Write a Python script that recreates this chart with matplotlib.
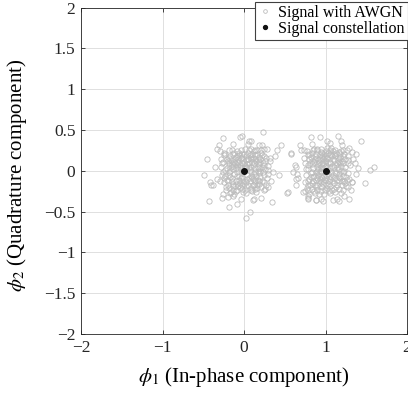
# AWGN constellation scatter (binary signalling, two symbols on phi_1)

import matplotlib
matplotlib.use("Agg")
import matplotlib.pyplot as plt

plt.rcParams['font.family'] = ['Liberation Serif', 'DejaVu Serif']
plt.rcParams['mathtext.fontset'] = 'stix'

# constellation points
const_x = [0.0, 1.0]
const_y = [0.0, 0.0]

# received samples around symbol 0
awgn_s0 = [
    (0.02, 0.05), (-0.08, 0.11), (0.12, -0.04), (-0.15, -0.09), (0.05, -0.17), (0.18, 0.08), (-0.03, 0.21),
    (-0.21, 0.03), (0.09, 0.14), (-0.11, -0.19), (0.22, -0.12), (-0.06, -0.07), (0.14, 0.19), (-0.18, 0.16),
    (0.01, -0.24), (0.26, 0.02), (-0.24, -0.14), (0.07, 0.01), (-0.13, 0.06), (0.16, -0.21), (-0.01, 0.13),
    (0.11, 0.07), (-0.19, -0.02), (0.04, -0.10), (-0.09, 0.24), (0.20, 0.15), (-0.27, 0.09), (0.13, -0.14),
    (-0.05, -0.15), (0.24, -0.05), (-0.14, 0.20), (0.03, 0.18), (-0.22, -0.20), (0.17, 0.00), (-0.07, 0.02),
    (0.10, -0.25), (-0.16, -0.26), (0.06, 0.25), (-0.25, 0.22), (0.19, -0.16), (-0.02, -0.03), (0.15, 0.12),
    (-0.12, -0.04), (0.08, -0.06), (-0.20, 0.12), (0.00, 0.09), (0.21, 0.22), (-0.10, -0.12), (0.13, 0.03),
    (-0.04, 0.16), (0.27, -0.18), (-0.17, 0.00), (0.02, -0.19), (-0.08, 0.07), (0.11, -0.10), (-0.23, -0.07),
    (0.18, 0.17), (-0.01, -0.12), (0.06, 0.10), (-0.14, -0.16), (0.23, 0.10), (-0.06, 0.19), (0.09, -0.21),
    (-0.19, 0.26), (0.14, -0.02), (-0.11, 0.14), (0.03, 0.03), (-0.26, -0.02), (0.16, 0.25), (-0.03, -0.22),
    (0.29, 0.06), (-0.15, 0.08), (0.05, 0.14), (-0.09, -0.23), (0.20, -0.08), (-0.21, -0.11), (0.10, 0.20),
    (-0.05, 0.04), (0.12, -0.17), (-0.17, 0.18), (0.01, 0.27), (-0.28, 0.15), (0.25, -0.24), (-0.12, -0.28),
    (0.08, 0.05), (-0.02, -0.08), (0.17, -0.11), (-0.07, 0.11), (0.22, 0.04), (-0.18, -0.05),
    (0.04, 0.08), (-0.10, 0.03), (0.15, -0.07), (-0.05, -0.20), (0.19, 0.11), (-0.16, 0.13), (0.07, -0.13),
    (-0.23, 0.01), (0.12, 0.24), (-0.02, 0.10), (0.24, -0.14), (-0.13, -0.23), (0.00, 0.20), (0.17, 0.05),
    (-0.20, -0.17), (0.09, -0.02), (-0.08, 0.18), (0.26, 0.12), (-0.27, -0.05), (0.03, -0.27), (0.14, 0.15),
    (-0.11, 0.09), (0.21, -0.20), (-0.06, -0.11), (0.10, 0.11), (-0.24, 0.19), (0.05, 0.22), (-0.15, -0.12),
    (0.28, -0.09), (-0.01, 0.00), (0.18, -0.03), (-0.19, 0.07), (0.08, 0.17), (-0.09, -0.16), (0.22, 0.19),
    (-0.04, 0.25), (0.13, -0.22), (-0.22, -0.24), (0.02, 0.13), (-0.12, 0.22), (0.25, 0.07), (-0.17, -0.08),
    (0.06, -0.09), (-0.07, 0.14), (0.16, 0.21), (-0.28, 0.04), (0.11, -0.18), (-0.03, -0.17), (0.20, 0.00),
    (-0.14, 0.02), (0.01, 0.06), (-0.21, 0.15), (0.15, -0.26), (-0.10, -0.25), (0.27, 0.16), (-0.05, 0.07),
    (0.09, 0.27), (-0.18, -0.21), (0.04, -0.05), (-0.26, 0.11), (0.19, -0.13), (-0.08, -0.02), (0.12, 0.09),
    (-0.15, 0.25), (0.23, -0.01), (-0.01, -0.26), (0.07, 0.19), (-0.20, -0.13), (0.30, -0.04), (-0.12, 0.11),
    (0.03, -0.14), (-0.25, -0.09), (0.17, 0.13), (-0.06, 0.22), (0.10, -0.08), (-0.16, 0.04), (0.21, 0.25),
    (-0.02, 0.17), (0.14, -0.11), (-0.09, -0.06), (0.26, -0.22), (-0.23, 0.20), (0.06, 0.04), (-0.13, -0.19),
    (0.18, 0.03), (-0.04, -0.09), (0.11, 0.16), (-0.19, 0.10), (0.00, -0.16), (0.24, 0.18), (-0.29, -0.12),
    (0.08, -0.24), (-0.10, 0.17), (0.16, -0.17), (-0.03, 0.03), (0.13, 0.26), (-0.17, -0.27), (0.29, 0.01),
    (-0.07, -0.19), (0.05, 0.15),
    (0.32, 0.12), (-0.33, -0.10), (0.05, 0.33), (-0.04, -0.34), (0.30, -0.20), (-0.30, 0.24), (0.18, 0.31),
    (-0.20, -0.32), (0.35, -0.02), (-0.36, 0.05), (0.12, -0.35), (-0.14, 0.33), (0.28, 0.27), (-0.26, -0.28),
    (0.38, 0.18), (-0.31, 0.32), (0.21, -0.33), (0.33, -0.12), (-0.38, -0.18), (0.09, 0.36),
    (0.23, 0.48), (-0.26, 0.40), (-0.33, 0.27), (-0.46, 0.14), (-0.49, -0.05), (-0.42, -0.14), (-0.40, -0.18),
    (-0.43, -0.37), (-0.19, -0.45), (-0.08, -0.41), (0.07, -0.51), (0.03, -0.58), (0.11, -0.36), (0.34, -0.38),
    (0.43, -0.05), (0.53, -0.27), (0.46, 0.31), (0.40, 0.25), (0.25, 0.27), (0.22, 0.31), (-0.05, 0.41),
    (-0.03, 0.43), (0.06, 0.36), (0.32, 0.16), (-0.13, -0.31), (-0.27, -0.33), (0.58, 0.22), (0.54, -0.26),
]

# received samples around symbol 1
awgn_s1 = [
    (1.03, -0.04), (0.91, 0.08), (1.14, 0.10), (0.85, -0.13), (1.07, 0.19), (0.96, -0.20), (1.21, -0.06),
    (0.80, 0.14), (1.10, -0.15), (0.94, 0.23), (1.18, 0.17), (0.88, -0.02), (1.01, 0.12), (0.77, -0.21),
    (1.24, 0.04), (0.99, -0.11), (1.12, 0.26), (0.83, 0.22), (1.05, -0.27), (0.90, -0.17), (1.16, -0.22),
    (0.97, 0.03), (1.27, 0.13), (0.79, 0.02), (1.08, 0.06), (0.93, 0.15), (1.20, -0.13), (0.86, -0.25),
    (1.02, 0.28), (0.75, 0.10), (1.13, -0.03), (0.95, -0.07), (1.25, -0.19), (0.82, -0.08), (1.06, -0.19),
    (0.98, 0.20), (1.19, 0.24), (0.87, 0.18), (1.00, -0.01), (0.92, -0.28), (1.15, 0.02), (0.81, -0.17),
    (1.09, 0.15), (0.89, 0.05), (1.22, 0.09), (0.96, 0.09), (1.04, -0.13), (0.78, 0.19), (1.11, -0.09),
    (0.94, -0.14), (1.28, -0.03), (0.84, 0.08), (1.03, 0.22), (0.99, -0.24), (1.17, 0.11), (0.90, 0.27),
    (1.07, -0.08), (0.76, -0.05), (1.23, 0.21), (0.97, 0.14), (1.14, -0.17), (0.86, 0.11), (1.01, 0.06),
    (0.93, -0.10), (1.19, 0.00), (0.80, -0.28), (1.10, 0.21), (0.95, 0.00), (1.26, -0.11), (0.88, -0.20),
    (1.05, 0.03), (0.98, 0.17), (1.12, -0.26), (0.83, -0.01), (1.16, 0.16), (0.91, -0.05), (1.02, -0.18),
    (0.74, 0.16), (1.21, 0.18), (1.08, -0.12), (0.85, 0.25), (1.13, 0.07), (0.97, -0.16), (1.30, 0.07),
    (0.92, 0.11), (1.06, 0.25), (0.79, -0.12), (1.18, -0.09), (1.00, 0.16), (0.89, -0.09),
    (1.05, 0.09), (0.92, -0.03), (1.16, -0.08), (0.87, 0.14), (1.02, -0.21), (1.20, 0.12), (0.83, -0.15),
    (1.09, 0.24), (0.96, 0.18), (1.25, -0.08), (0.78, 0.07), (1.13, -0.20), (0.99, 0.05), (0.90, -0.23),
    (1.18, 0.20), (0.85, 0.03), (1.07, -0.02), (0.94, 0.27), (1.23, 0.00), (0.80, -0.10), (1.11, 0.13),
    (0.97, -0.12), (1.27, 0.18), (0.88, 0.21), (1.04, -0.16), (0.75, -0.14), (1.15, 0.05), (0.93, 0.07),
    (1.21, -0.24), (0.86, -0.06), (1.00, 0.24), (1.09, -0.05), (0.82, 0.17), (1.17, -0.13), (0.95, -0.25),
    (1.28, 0.09), (0.91, 0.13), (1.03, 0.01), (0.77, 0.24), (1.12, 0.18), (0.98, -0.06), (1.24, -0.15),
    (0.84, -0.22), (1.06, 0.11), (0.89, 0.00), (1.19, 0.06), (0.96, 0.22), (1.14, -0.11), (0.81, 0.10),
    (1.01, -0.09), (1.26, 0.25), (0.87, -0.18), (1.08, 0.18), (0.94, -0.02), (1.22, -0.02), (0.79, -0.24),
    (1.13, 0.22), (0.99, 0.12), (1.04, -0.25), (0.90, 0.16), (1.17, -0.04), (0.76, 0.02), (1.10, 0.04),
    (0.95, -0.19), (1.29, -0.10), (0.86, 0.27), (1.02, 0.16), (1.20, -0.18), (0.92, -0.13), (1.07, 0.28),
    (0.83, 0.12), (1.15, 0.13), (0.98, -0.28), (1.24, 0.15), (0.88, -0.11), (1.05, -0.10), (0.80, 0.21),
    (1.11, -0.22), (0.97, 0.08), (1.19, -0.27), (0.93, 0.19), (1.03, 0.10), (0.85, -0.08), (1.22, 0.26),
    (1.08, -0.23), (0.91, 0.02), (1.16, 0.23), (0.78, -0.18), (1.00, -0.05), (1.27, -0.20), (0.89, 0.25),
    (1.12, -0.01), (0.96, -0.09), (1.18, 0.09), (0.82, -0.03), (1.06, 0.20), (0.94, 0.04), (1.23, -0.12),
    (0.87, -0.27), (1.01, 0.19),
    (1.34, 0.14), (0.66, -0.09), (1.06, 0.34), (0.95, -0.35), (1.31, -0.23), (0.70, 0.26), (1.20, 0.32),
    (0.78, -0.31), (1.37, -0.04), (0.63, 0.07), (1.14, -0.34), (0.84, 0.33), (1.29, 0.28), (0.73, -0.26),
    (1.38, 0.20), (0.69, 0.31), (1.23, -0.31), (1.33, -0.14), (0.64, -0.17), (1.02, 0.37),
    (1.44, 0.37), (1.60, 0.05), (1.55, 0.01), (1.49, -0.15), (1.29, -0.34), (1.17, -0.37), (1.09, -0.36),
    (0.97, -0.37), (0.88, -0.36), (0.78, -0.33), (0.75, -0.25), (0.64, -0.10), (0.65, -0.04), (0.60, -0.02),
    (0.64, 0.04), (0.58, 0.20), (0.74, 0.25), (0.82, 0.41), (0.93, 0.41), (1.15, 0.42), (1.19, 0.36),
    (1.32, 0.23), (1.36, 0.10), (1.40, 0.03), (1.32, -0.14), (0.78, -0.34), (0.88, -0.36),
]

x0 = [p[0] for p in awgn_s0]
y0 = [p[1] for p in awgn_s0]
x1 = [p[0] for p in awgn_s1]
y1 = [p[1] for p in awgn_s1]

fig = plt.figure(figsize=(4.08, 3.95), dpi=100)
ax = fig.add_axes([81 / 408, 61 / 395, 326 / 408, 326.5 / 395])

ax.plot(x0 + x1, y0 + y1, linestyle='none', marker='o', markersize=3.8,
        markerfacecolor='none', markeredgecolor='#bcbcbc', markeredgewidth=0.6,
        label='Signal with AWGN')
ax.plot(const_x, const_y, linestyle='none', marker='o', markersize=4,
        color='#111111', label='Signal constellation')

ax.set_xlim(-2, 2)
ax.set_ylim(-2, 2)
ax.set_xticks([-2, -1, 0, 1, 2])
ax.set_yticks([-2, -1.5, -1, -0.5, 0, 0.5, 1, 1.5, 2])
ax.set_xticklabels(['\u22122', '\u22121', '0', '1', '2'])
ax.set_yticklabels(['\u22122', '\u22121.5', '\u22121', '\u22120.5', '0', '0.5', '1', '1.5', '2'])
ax.grid(True, color='#e0e0e0', linewidth=0.7)
ax.set_axisbelow(True)
ax.tick_params(direction='in', length=3, width=0.6, labelsize=12.5, colors='#262626',
               top=True, right=True, pad=4)
for s in ax.spines.values():
    s.set_color('#262626')
    s.set_linewidth(0.6)

ax.set_xlabel(r'$\phi_1$ (In-phase component)', fontsize=15, labelpad=7)
ax.set_ylabel(r'$\phi_2$ (Quadrature component)', fontsize=15)
ax.yaxis.set_label_coords(-0.158, 0.485)

leg = ax.legend(loc='upper right', bbox_to_anchor=(407.5 / 408, 393.5 / 395),
                bbox_transform=fig.transFigure, fontsize=11.5, frameon=True,
                fancybox=False, edgecolor='#404040', framealpha=1,
                borderpad=0.2, handlelength=0.8, handletextpad=0.4,
                labelspacing=0.0, borderaxespad=0, markerscale=0.7)
leg.get_frame().set_linewidth(0.8)

fig.savefig('out.png', dpi=100)
